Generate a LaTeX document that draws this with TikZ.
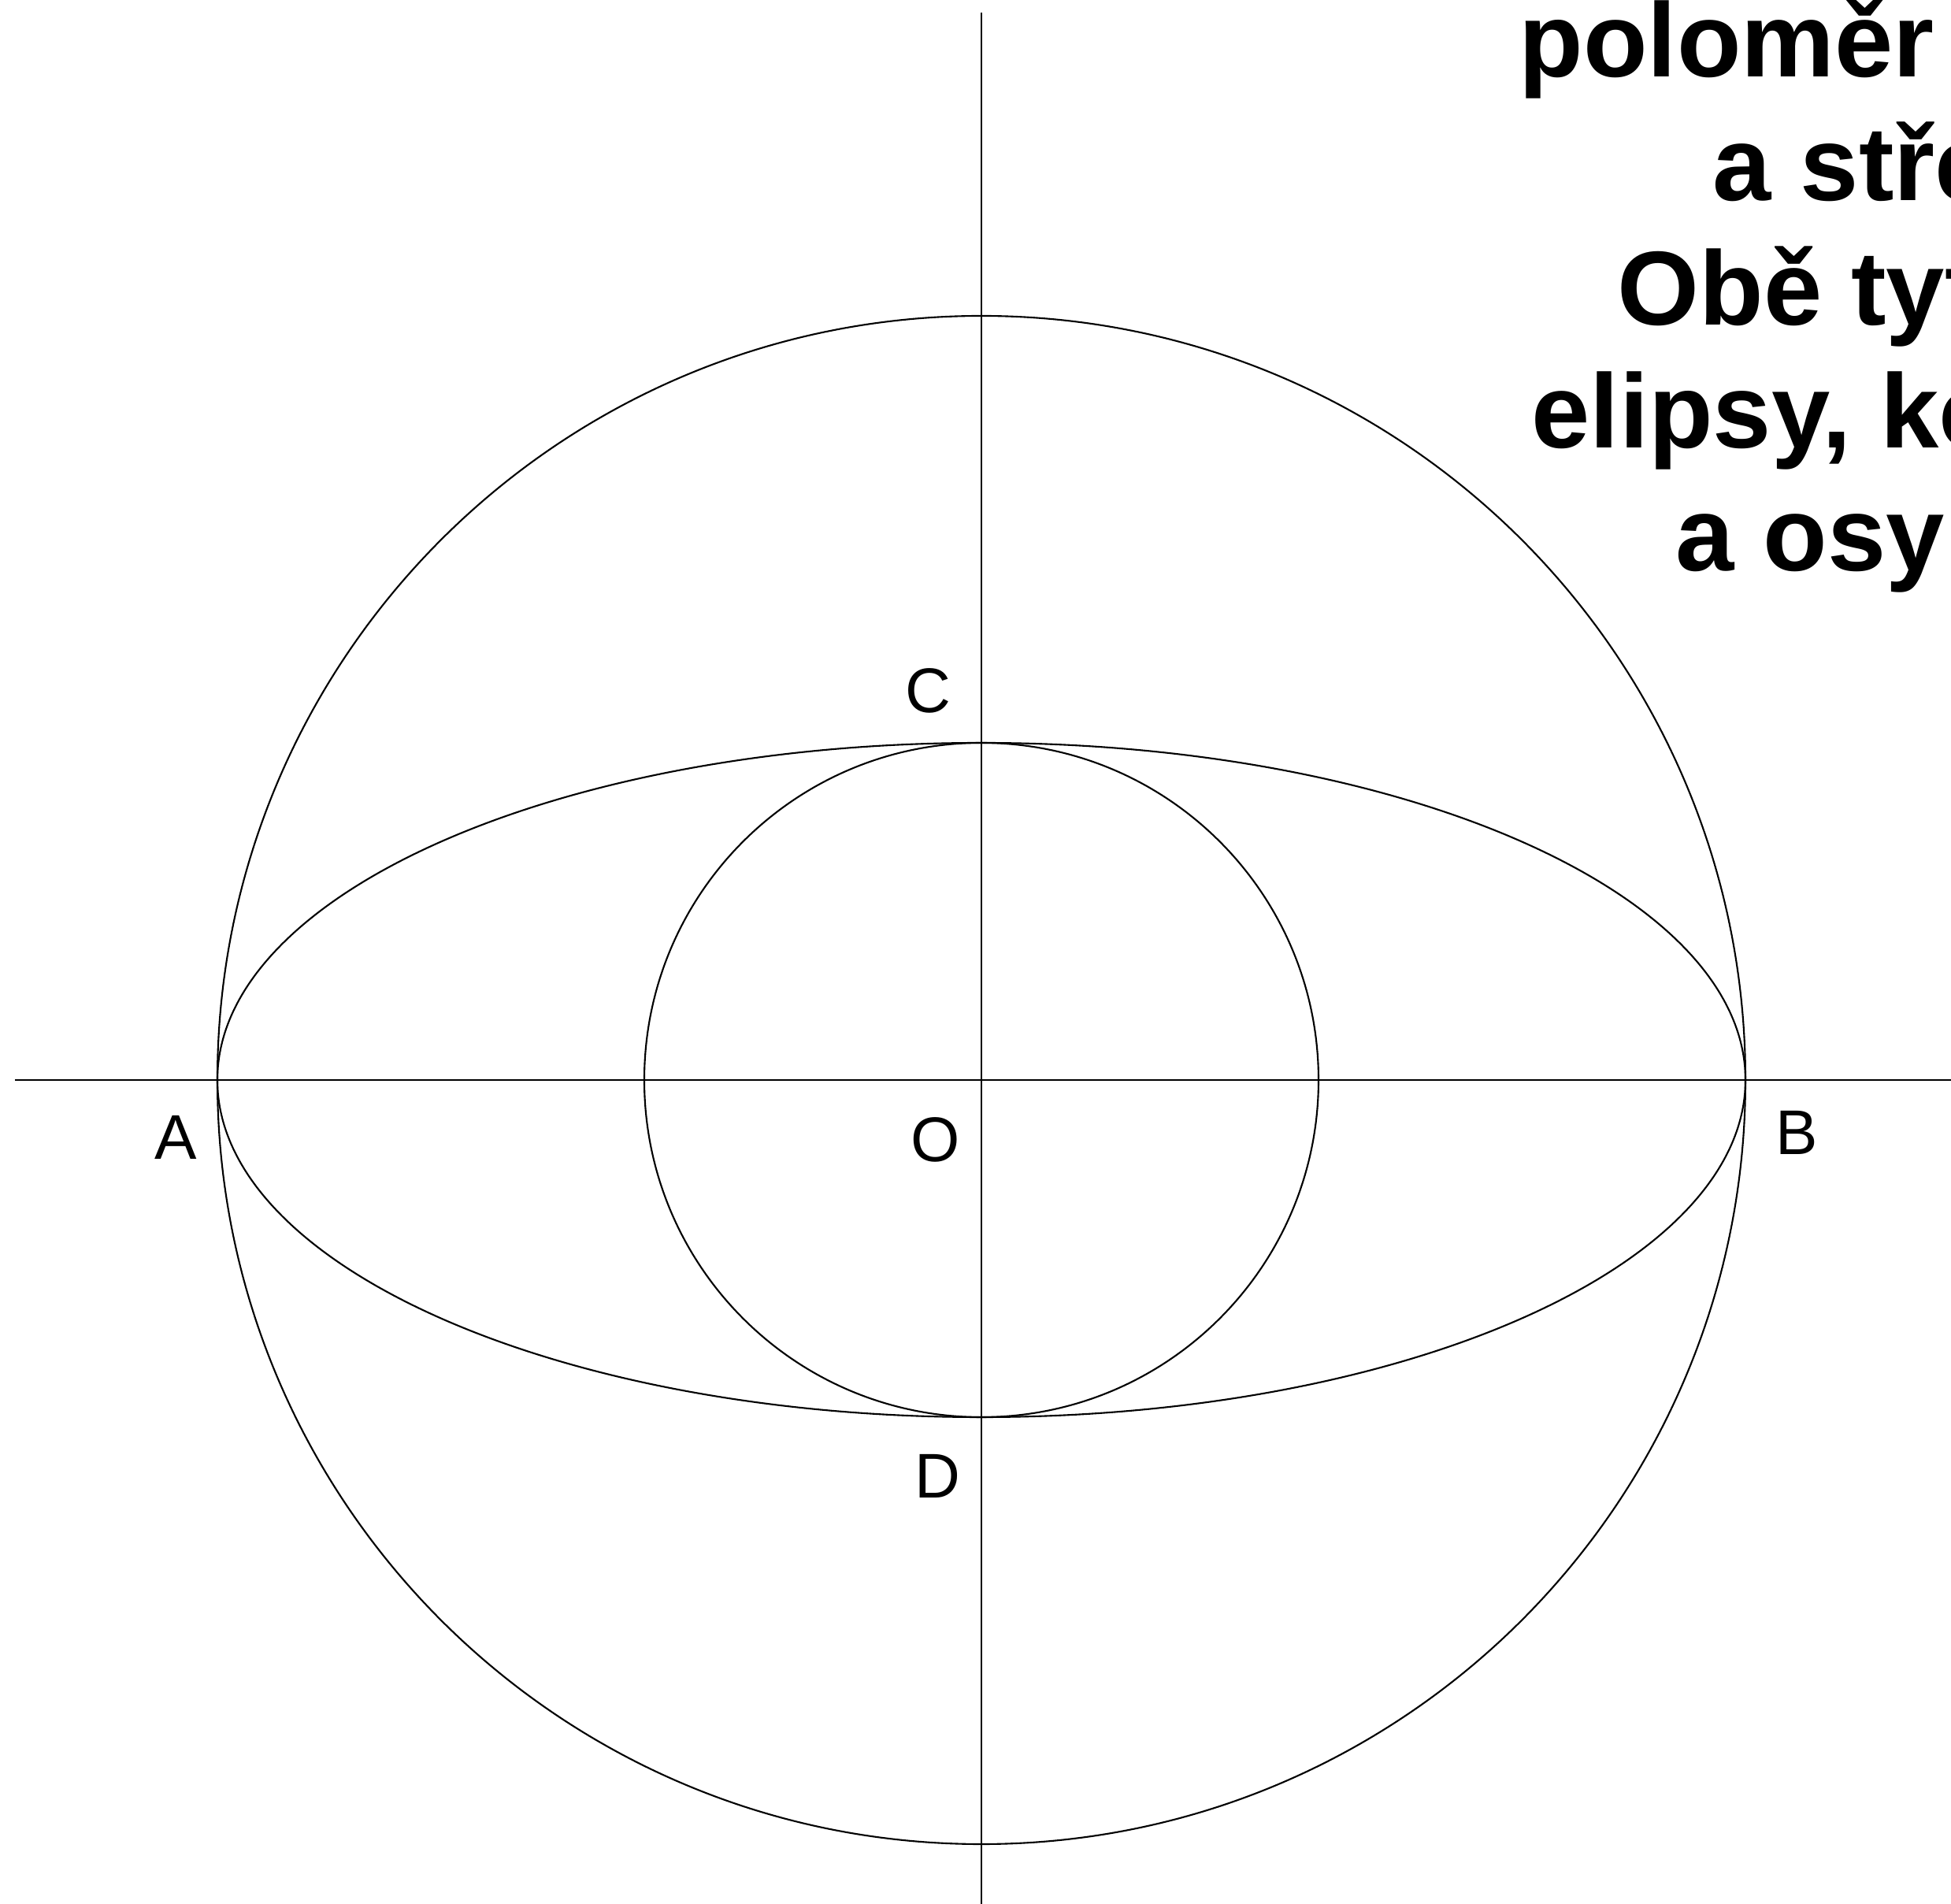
\documentclass[tikz,border=0pt]{standalone}
\usepackage{fontspec}
\setmainfont{Liberation Sans}
\usepackage{tikz}
\usetikzlibrary{positioning}

\tikzset{
  curve/.style={line width=0.6pt},
  lbl/.style={inner sep=0pt, font=\fontsize{22.8}{27}\selectfont},
  txtline/.style={inner sep=0pt, anchor=base west, font=\fontsize{38}{45}\selectfont\bfseries}
}

\begin{document}
\begin{tikzpicture}
        \useasboundingbox (-12.46,-10.46) rectangle (12.31,13.71);
        \clip (-12.46,-10.46) rectangle (12.31,13.71);

        % Points
        \coordinate (O) at (0,0);
        \coordinate (A) at (-9.70,0);
        \coordinate (B) at (9.70,0);
        \coordinate (C) at (0,4.28);
        \coordinate (D) at (0,-4.28);
        \coordinate (xl) at (-12.27,0);
        \coordinate (xr) at (12.40,0);
        \coordinate (yt) at (0,13.55);
        \coordinate (yb) at (0,-10.60);

        % Axes
        \draw[curve] (xl) -- (xr);
        \draw[curve] (yt) -- (yb);

        % Circles and ellipse
        \draw[curve] (O) circle (9.70);
        \draw[curve] (O) circle (4.28);
        \draw[curve] (O) ellipse [x radius=9.70, y radius=4.28];

        % Labels
        \node[lbl] (labA) at (-10.23,-0.73) {A};
        \node[lbl] (labB) at (10.35,-0.67) {B};
        \node[lbl] (labC) at (-0.68,4.94) {C};
        \node[lbl] (labD) at (-0.56,-5.03) {D};
        \node[lbl] (labO) at (-0.58,-0.76) {O};

        % Text (cut off at the right edge)
        \node[txtline] (t1) at (6.82,12.73) {poloměr};
        \node[txtline] (t2) at (9.28,11.16) {a stře};
        \node[txtline] (t3) at (8.07,9.58) {Obě tyt};
        \node[txtline] (t4) at (6.98,8.02) {elipsy, ko};
        \node[txtline] (t5) at (8.81,6.46) {a osy};
\end{tikzpicture}
\end{document}
